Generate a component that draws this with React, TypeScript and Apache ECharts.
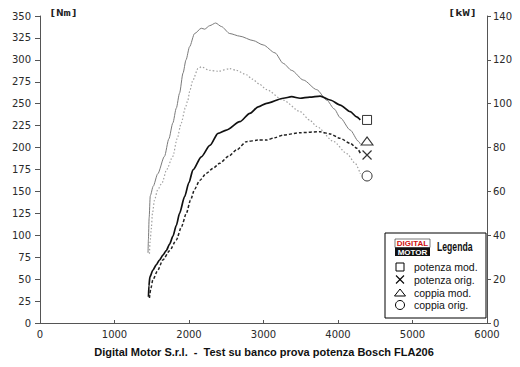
import React, { useEffect, useRef } from "react";
import * as echarts from "echarts";

// ---- data ----
const coppiaModRpm = [1450, 1455, 1465, 1480, 1520, 1580, 1671, 1730, 1783, 1830, 1873, 1920, 1960, 2008, 2075, 2165, 2210, 2278, 2358, 2435, 2547, 2682, 2861, 2996, 3154, 3265, 3378, 3535, 3715, 3850, 3950, 4030, 4164, 4276, 4300];
const coppiaModNm = [80, 95, 120, 145, 156, 170, 190, 210, 228, 245, 262, 285, 300, 315, 330, 336, 335, 339, 342, 338, 330, 327, 322, 317, 308, 296, 288, 277, 266, 254, 244, 234, 220, 207, 204];

const coppiaOrigRpm = [1469, 1480, 1492, 1510, 1536, 1580, 1640, 1700, 1783, 1840, 1896, 1950, 1985, 2008, 2053, 2120, 2165, 2278, 2390, 2547, 2637, 2772, 2850, 2950, 3042, 3265, 3491, 3625, 3715, 3940, 4120, 4232, 4300];
const coppiaOrigNm = [79, 95, 106, 125, 140, 152, 160, 175, 190, 210, 228, 245, 254, 264, 277, 290, 292, 288, 287, 290, 288, 283, 278, 272, 266, 254, 241, 231, 224, 207, 193, 182, 170];

const potenzaModRpm = [1456, 1462, 1475, 1514, 1560, 1604, 1650, 1694, 1740, 1783, 1830, 1873, 1941, 1999, 2053, 2165, 2280, 2390, 2502, 2682, 2817, 2929, 3042, 3265, 3378, 3491, 3620, 3760, 3895, 4030, 4164, 4250, 4300];
const potenzaModKw = [12, 17, 21, 24, 26.5, 28.7, 31, 33, 36, 39.5, 44.5, 50, 57.6, 64, 69.8, 75.8, 81, 86.5, 88, 91.8, 95.6, 98.6, 100.2, 102.5, 103.2, 102.5, 103, 103.5, 101.7, 99.4, 96.4, 94, 92.6];

const potenzaOrigRpm = [1469, 1490, 1514, 1580, 1648, 1740, 1829, 1900, 1964, 2020, 2075, 2143, 2233, 2320, 2412, 2530, 2637, 2772, 2929, 3042, 3150, 3265, 3491, 3760, 3895, 4030, 4164, 4254, 4300];
const potenzaOrigKw = [11.4, 16, 19.6, 24, 28.7, 33, 37.8, 44, 50, 56, 61, 65, 68.3, 70.5, 72.8, 76, 78.9, 82.7, 83.4, 83.4, 84.5, 85.7, 86.8, 87.2, 86.2, 84.2, 81.9, 79.7, 77.4];

// end-of-curve markers
const markerRpm = 4390;
const markerPotenzaMod = 92.6;
const markerCoppiaMod = 207.5;
const markerPotenzaOrig = 76.6;
const markerCoppiaOrig = 167.6;

const legendLabels = ["potenza mod.", "potenza orig.", "coppia mod.", "coppia orig."];
const titleText = "Digital Motor S.r.l.  -  Test su banco prova potenza Bosch FLA206";

const pairs = (xs: number[], ys: number[]) => xs.map((x, i) => [x, ys[i]]);

const tickFont = { fontFamily: "'DejaVu Sans'", fontSize: 10, color: "#2a2a2a", formatter: (v: number) => String(v) };
const axisColor = "#555";

export default function App() {
  const ref = useRef<HTMLDivElement>(null);
  useEffect(() => {
    if (!ref.current) return;
    const chart = echarts.init(ref.current, null, { renderer: "svg" });
    const markerStyle = { color: "#fff", borderColor: "#000", borderWidth: 1 };
    const rowY = [267, 279.5, 292.5, 305];
    const legendFont = "10.5px 'Liberation Sans', Arial, sans-serif";
    const lineCommon = { type: "line", showSymbol: false, smooth: 0.25, smoothMonotone: "x" };
    chart.setOption({
      animation: false,
      backgroundColor: "#fff",
      grid: { left: 40, right: 33, top: 16, bottom: 44, containLabel: false },
      xAxis: {
        type: "value",
        min: 0,
        max: 6000,
        interval: 1000,
        axisLine: { show: true, lineStyle: { color: axisColor, width: 1 } },
        axisTick: { show: true, inside: true, length: 3, lineStyle: { color: axisColor } },
        axisLabel: { ...tickFont, margin: 6 },
        splitLine: { show: false },
      },
      yAxis: [
        {
          type: "value",
          position: "left",
          min: 0,
          max: 350,
          interval: 25,
          axisLine: { show: true, lineStyle: { color: axisColor, width: 1 } },
          axisTick: { show: true, inside: false, length: 5, lineStyle: { color: axisColor } },
          axisLabel: { ...tickFont, margin: 9 },
          splitLine: { show: false },
        },
        {
          type: "value",
          position: "right",
          min: 0,
          max: 140,
          interval: 20,
          axisLine: { show: true, lineStyle: { color: axisColor, width: 1 } },
          axisTick: { show: true, inside: false, length: 4, lineStyle: { color: axisColor } },
          axisLabel: { ...tickFont, margin: 6 },
          splitLine: { show: false },
        },
      ],
      series: [
        {
          ...lineCommon,
          name: "coppia mod.",
          yAxisIndex: 0,
          data: pairs(coppiaModRpm, coppiaModNm),
          lineStyle: { color: "#7a7a7a", width: 1 },
        },
        {
          ...lineCommon,
          name: "coppia orig.",
          yAxisIndex: 0,
          data: pairs(coppiaOrigRpm, coppiaOrigNm),
          lineStyle: { color: "#a0a0a0", width: 1.2, type: [1.5, 2] },
        },
        {
          ...lineCommon,
          name: "potenza mod.",
          yAxisIndex: 1,
          data: pairs(potenzaModRpm, potenzaModKw),
          lineStyle: { color: "#111", width: 1.7 },
        },
        {
          ...lineCommon,
          name: "potenza orig.",
          yAxisIndex: 1,
          data: pairs(potenzaOrigRpm, potenzaOrigKw),
          lineStyle: { color: "#222", width: 1.5, type: [3, 2] },
        },
        {
          type: "scatter",
          yAxisIndex: 1,
          symbol: "rect",
          symbolSize: 9,
          data: [[markerRpm, markerPotenzaMod]],
          itemStyle: markerStyle,
        },
        {
          type: "scatter",
          yAxisIndex: 0,
          symbol: "triangle",
          symbolSize: [12, 8],
          data: [[markerRpm, markerCoppiaMod]],
          itemStyle: markerStyle,
        },
        {
          type: "scatter",
          yAxisIndex: 1,
          symbol: "path://M0,0L10,10M10,0L0,10",
          symbolSize: 9,
          data: [[markerRpm, markerPotenzaOrig]],
          itemStyle: { color: "transparent", borderColor: "#000", borderWidth: 1.2 },
        },
        {
          type: "scatter",
          yAxisIndex: 0,
          symbol: "circle",
          symbolSize: 10,
          data: [[markerRpm, markerCoppiaOrig]],
          itemStyle: markerStyle,
        },
      ],
      graphic: [
        {
          type: "text",
          x: 49,
          y: 13,
          scaleX: 1.5,
          style: { text: "[Nm]", fill: "#222", font: "bold 8px 'DejaVu Sans Mono', monospace", verticalAlign: "middle" },
        },
        {
          type: "text",
          x: 448,
          y: 13,
          scaleX: 1.5,
          style: { text: "[kW]", fill: "#222", font: "bold 8px 'DejaVu Sans Mono', monospace", verticalAlign: "middle" },
        },
        {
          type: "text",
          x: 264,
          y: 352,
          style: {
            text: titleText,
            fill: "#111",
            font: "bold 11px 'Liberation Sans', Arial, sans-serif",
            align: "center",
            verticalAlign: "middle",
          },
        },
        {
          type: "rect",
          shape: { x: 385, y: 233, width: 101, height: 85 },
          style: { fill: "#fff", stroke: "#000", lineWidth: 1 },
          z: 10,
        },
        {
          type: "rect",
          shape: { x: 395, y: 239, width: 35, height: 8.5 },
          style: { fill: "#fff", stroke: "#222", lineWidth: 0.6 },
          z: 11,
        },
        {
          type: "rect",
          shape: { x: 395, y: 247.5, width: 35, height: 8.5 },
          style: { fill: "#111" },
          z: 11,
        },
        {
          type: "text",
          x: 412.5,
          y: 243.5,
          z: 12,
          style: { text: "DIGITAL", fill: "#d01010", font: "bold 8px 'Liberation Sans', Arial", align: "center", verticalAlign: "middle" },
        },
        {
          type: "text",
          x: 412.5,
          y: 252,
          z: 12,
          style: { text: "MOTOR", fill: "#fff", font: "bold 8px 'Liberation Sans', Arial", align: "center", verticalAlign: "middle" },
        },
        {
          type: "text",
          x: 437,
          y: 247,
          z: 12,
          scaleX: 0.72,
          style: { text: "Legenda", fill: "#111", font: "bold 12px 'Liberation Sans', Arial", verticalAlign: "middle" },
        },
        {
          type: "rect",
          z: 12,
          shape: { x: 396, y: rowY[0] - 4, width: 8, height: 8 },
          style: { fill: "#fff", stroke: "#000", lineWidth: 1 },
        },
        {
          type: "line",
          z: 12,
          shape: { x1: 396, y1: rowY[1] - 4, x2: 404, y2: rowY[1] + 4 },
          style: { stroke: "#000", lineWidth: 1.1 },
        },
        {
          type: "line",
          z: 12,
          shape: { x1: 404, y1: rowY[1] - 4, x2: 396, y2: rowY[1] + 4 },
          style: { stroke: "#000", lineWidth: 1.1 },
        },
        {
          type: "polygon",
          z: 12,
          shape: { points: [[394.5, rowY[2] + 3.5], [400, rowY[2] - 3.5], [405.5, rowY[2] + 3.5]] },
          style: { fill: "#fff", stroke: "#000", lineWidth: 1 },
        },
        {
          type: "circle",
          z: 12,
          shape: { cx: 400, cy: rowY[3], r: 4.5 },
          style: { fill: "#fff", stroke: "#000", lineWidth: 1 },
        },
        ...legendLabels.map((t, i) => ({
          type: "text",
          x: 414,
          y: rowY[i],
          z: 12,
          style: { text: t, fill: "#111", font: legendFont, verticalAlign: "middle" },
        })),
      ],
    });
    return () => chart.dispose();
  }, []);
  return (
    <div
      ref={ref}
      style={{ position: "absolute", left: 0, top: 0, width: 520, height: 367, background: "#fff" }}
    />
  );
}
